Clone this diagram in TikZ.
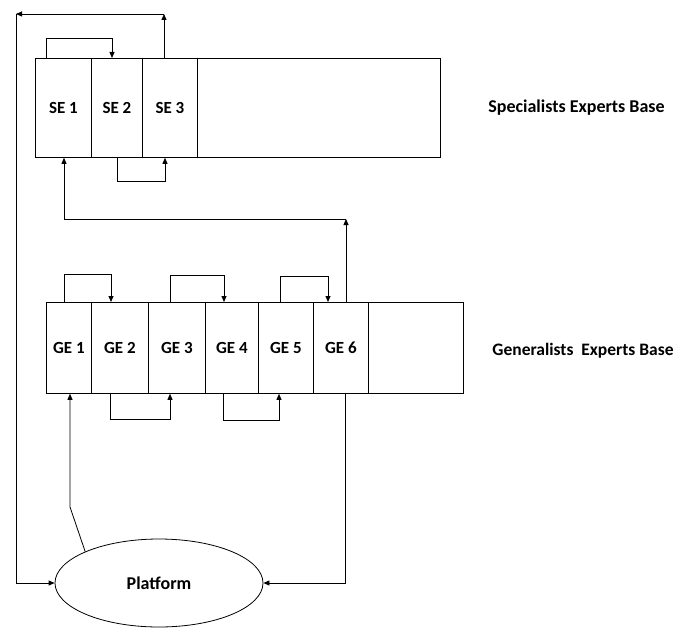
\documentclass[tikz,border=0pt]{standalone}
\usepackage{fontspec}
\setmainfont{Carlito}
\usetikzlibrary{arrows.meta,shapes.geometric}
\begin{document}
\begin{tikzpicture}[x=1pt,y=-1pt,
  line width=0.8pt,
  cell/.style={draw, line width=0.8pt, anchor=north west, inner sep=0pt, font=\bfseries\fontsize{17}{19}\selectfont},
  arr/.style={-{Triangle[length=6pt,width=5pt]}},
  lbl/.style={anchor=west, inner sep=0pt, font=\bfseries\fontsize{18}{20}\selectfont}]
\useasboundingbox (0,0) rectangle (676,628);
% Specialists row
\node[cell, minimum width=56pt, minimum height=99pt] (SE1) at (35,58) {SE 1};
\node[cell, minimum width=51pt, minimum height=99pt] (SE2) at (91,58) {SE 2};
\node[cell, minimum width=55pt, minimum height=99pt] (SE3) at (142,58) {SE 3};
\node[cell, minimum width=243pt, minimum height=99pt] (SE4) at (197,58) {};
% Generalists row
\node[cell, minimum width=45pt, minimum height=91pt] (GE1) at (46,302) {GE 1};
\node[cell, minimum width=57pt, minimum height=91pt] (GE2) at (91,302) {GE 2};
\node[cell, minimum width=57pt, minimum height=91pt] (GE3) at (148,302) {GE 3};
\node[cell, minimum width=53pt, minimum height=91pt] (GE4) at (205,302) {GE 4};
\node[cell, minimum width=55pt, minimum height=91pt] (GE5) at (258,302) {GE 5};
\node[cell, minimum width=55pt, minimum height=91pt] (GE6) at (313,302) {GE 6};
\node[cell, minimum width=95pt, minimum height=91pt] (GE7) at (368,302) {};
% Platform
\node[draw, ellipse, minimum width=208pt, minimum height=88pt, inner sep=0pt,
      font=\bfseries\fontsize{18}{20}\selectfont] (P) at (159,583) {Platform};
% Labels
\node[lbl] (LS) at (488,108) {Specialists Experts Base};
\node[lbl, font=\bfseries\fontsize{17.5}{20}\selectfont] (LG) at (492,351) {Generalists\hspace{0.45em}Experts Base};
% coordinates
\coordinate (c1) at (164,14);
\coordinate (c2) at (16,14);
\coordinate (c3) at (346,219);
% SE connectors
\draw[arr] (46,0 |- SE1.north) |- (112,38) -- (112,0 |- SE2.north);
\draw[arr] (117,0 |- SE2.south) |- (165,181) -- (165,0 |- SE3.south);
\draw[arr] (164,0 |- SE3.north) -- (c1);
\draw[arr] (c1) -- (c2);
\draw[arr] (c2) |- (P.west);
% GE connectors
\draw[arr] (64,0 |- GE1.north) |- (111,274) -- (111,0 |- GE2.north);
\draw[arr] (170,0 |- GE3.north) |- (224,275) -- (224,0 |- GE4.north);
\draw[arr] (280,0 |- GE5.north) |- (328,276) -- (328,0 |- GE6.north);
\draw[arr] (110,0 |- GE2.south) |- (170,419) -- (170,0 |- GE3.south);
\draw[arr] (223,0 |- GE4.south) |- (279,420) -- (279,0 |- GE5.south);
\draw[arr] (346,0 |- GE6.north) -- (c3);
\draw[arr] (c3) -| (64,0 |- SE1.south);
% Platform connectors
\draw[arr] (P.north west) -- (70,507) -- (70,0 |- GE1.south);
\draw[arr] (345,0 |- GE6.south) |- (P.east);
\end{tikzpicture}
\end{document}
